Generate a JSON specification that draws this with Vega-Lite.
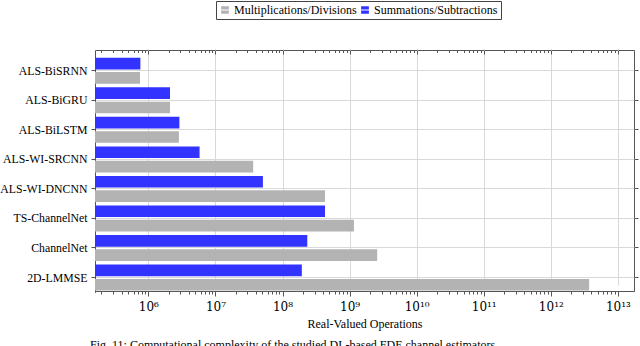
{
  "$schema": "https://vega.github.io/schema/vega-lite/v6.json",
  "width": 539,
  "height": 241,
  "autosize": {"type": "none"},
  "padding": {"left": 95, "top": 50, "right": 6, "bottom": 55},
  "background": "white",
  "config": {"font": "Liberation Serif", "view": {"stroke": "#555", "strokeWidth": 1}},
  "title": {"text": "Fig. 11: Computational complexity of the studied DL-based FDE channel estimators.", "orient": "bottom", "anchor": "start", "frame": "group", "dx": -5, "offset": 11, "fontSize": 12, "fontWeight": "normal", "font": "Liberation Serif", "color": "black"},
  "data": {"values": [
    {"method": "ALS-BiSRNN", "type": "Summations/Subtractions", "ops": 760000},
    {"method": "ALS-BiSRNN", "type": "Multiplications/Divisions", "ops": 750000},
    {"method": "ALS-BiGRU", "type": "Summations/Subtractions", "ops": 2100000},
    {"method": "ALS-BiGRU", "type": "Multiplications/Divisions", "ops": 2100000},
    {"method": "ALS-BiLSTM", "type": "Summations/Subtractions", "ops": 2900000},
    {"method": "ALS-BiLSTM", "type": "Multiplications/Divisions", "ops": 2850000},
    {"method": "ALS-WI-SRCNN", "type": "Summations/Subtractions", "ops": 5800000},
    {"method": "ALS-WI-SRCNN", "type": "Multiplications/Divisions", "ops": 36500000},
    {"method": "ALS-WI-DNCNN", "type": "Summations/Subtractions", "ops": 51000000},
    {"method": "ALS-WI-DNCNN", "type": "Multiplications/Divisions", "ops": 430000000},
    {"method": "TS-ChannelNet", "type": "Summations/Subtractions", "ops": 430000000},
    {"method": "TS-ChannelNet", "type": "Multiplications/Divisions", "ops": 1160000000},
    {"method": "ChannelNet", "type": "Summations/Subtractions", "ops": 234000000},
    {"method": "ChannelNet", "type": "Multiplications/Divisions", "ops": 2580000000},
    {"method": "2D-LMMSE", "type": "Summations/Subtractions", "ops": 194000000},
    {"method": "2D-LMMSE", "type": "Multiplications/Divisions", "ops": 3730000000000}
  ]},
  "layer": [
    {
      "mark": {"type": "bar"},
      "encoding": {
        "y": {
          "field": "method", "type": "nominal",
          "sort": ["ALS-BiSRNN", "ALS-BiGRU", "ALS-BiLSTM", "ALS-WI-SRCNN", "ALS-WI-DNCNN", "TS-ChannelNet", "ChannelNet", "2D-LMMSE"],
          "scale": {"range": [6, 242.3], "paddingInner": 0, "paddingOuter": 0},
          "axis": {"orient": "left", "title": null, "labelFontSize": 11.8, "labelFont": "Liberation Serif", "labelColor": "black", "tickSize": 4, "labelPadding": 4, "grid": true, "gridColor": "#d9d9d9", "domainColor": "#555", "tickColor": "#555"}
        },
        "yOffset": {
          "field": "type", "type": "nominal",
          "sort": ["Summations/Subtractions", "Multiplications/Divisions"],
          "scale": {"paddingInner": 0.188, "paddingOuter": 0.123}
        },
        "x": {
          "field": "ops", "type": "quantitative",
          "scale": {"type": "log", "domain": [160000, 17400000000000], "nice": false},
          "axis": {
            "orient": "bottom",
            "values": [200000, 300000, 400000, 500000, 600000, 700000, 800000, 900000,
              1000000, 2000000, 3000000, 4000000, 5000000, 6000000, 7000000, 8000000, 9000000,
              10000000, 20000000, 30000000, 40000000, 50000000, 60000000, 70000000, 80000000, 90000000,
              100000000, 200000000, 300000000, 400000000, 500000000, 600000000, 700000000, 800000000, 900000000,
              1000000000, 2000000000, 3000000000, 4000000000, 5000000000, 6000000000, 7000000000, 8000000000, 9000000000,
              10000000000, 20000000000, 30000000000, 40000000000, 50000000000, 60000000000, 70000000000, 80000000000, 90000000000,
              100000000000, 200000000000, 300000000000, 400000000000, 500000000000, 600000000000, 700000000000, 800000000000, 900000000000,
              1000000000000, 2000000000000, 3000000000000, 4000000000000, 5000000000000, 6000000000000, 7000000000000, 8000000000000, 9000000000000,
              10000000000000],
            "labelExpr": "abs(log(datum.value)/LN10 - round(log(datum.value)/LN10)) < 0.001 ? ['10⁶','10⁷','10⁸','10⁹','10¹⁰','10¹¹','10¹²','10¹³'][round(log(datum.value)/LN10) - 6] : ''",
            "tickSize": {"condition": {"test": "abs(log(datum.value)/LN10 - round(log(datum.value)/LN10)) < 0.001", "value": 5}, "value": 3},
            "grid": true,
            "gridColor": "#d9d9d9",
            "gridOpacity": {"condition": {"test": "abs(log(datum.value)/LN10 - round(log(datum.value)/LN10)) < 0.001", "value": 1}, "value": 0},
            "domainColor": "#555", "tickColor": "#555",
            "labelFontSize": 12, "labelFont": "DejaVu Serif", "labelColor": "black",
            "labelPadding": 5, "labelFlush": false, "labelOverlap": false,
            "title": "Real-Valued Operations", "titleFontSize": 12, "titleFont": "Liberation Serif", "titleFontWeight": "normal", "titleColor": "black", "titlePadding": 6
          }
        },
        "x2": {"datum": 160000},
        "color": {
          "field": "type", "type": "nominal",
          "scale": {"domain": ["Multiplications/Divisions", "Summations/Subtractions"], "range": ["#b3b3b3", "#3333ff"]},
          "legend": {"orient": "none", "legendX": 121, "legendY": -49, "direction": "horizontal", "title": null, "strokeColor": "#444", "padding": 3, "fillColor": "white", "labelFontSize": 12, "labelFont": "Liberation Serif", "labelColor": "black", "symbolType": "M-1,-1H1V-0.12H-1Z M-1,0.12H1V1H-1Z", "symbolSize": 60, "symbolStrokeWidth": 0, "columnPadding": 2, "labelOffset": 3}
        }
      }
    },
    {
      "mark": {"type": "bar", "opacity": 0},
      "encoding": {
        "y": {
          "field": "method", "type": "nominal",
          "sort": ["ALS-BiSRNN", "ALS-BiGRU", "ALS-BiLSTM", "ALS-WI-SRCNN", "ALS-WI-DNCNN", "TS-ChannelNet", "ChannelNet", "2D-LMMSE"],
          "axis": {"orient": "right", "title": null, "labels": false, "grid": false, "domain": false, "tickSize": 4, "tickColor": "#555"}
        },
        "x": {
          "field": "ops", "type": "quantitative",
          "axis": {
            "orient": "top",
            "values": [200000, 300000, 400000, 500000, 600000, 700000, 800000, 900000,
              1000000, 2000000, 3000000, 4000000, 5000000, 6000000, 7000000, 8000000, 9000000,
              10000000, 20000000, 30000000, 40000000, 50000000, 60000000, 70000000, 80000000, 90000000,
              100000000, 200000000, 300000000, 400000000, 500000000, 600000000, 700000000, 800000000, 900000000,
              1000000000, 2000000000, 3000000000, 4000000000, 5000000000, 6000000000, 7000000000, 8000000000, 9000000000,
              10000000000, 20000000000, 30000000000, 40000000000, 50000000000, 60000000000, 70000000000, 80000000000, 90000000000,
              100000000000, 200000000000, 300000000000, 400000000000, 500000000000, 600000000000, 700000000000, 800000000000, 900000000000,
              1000000000000, 2000000000000, 3000000000000, 4000000000000, 5000000000000, 6000000000000, 7000000000000, 8000000000000, 9000000000000,
              10000000000000],
            "labels": false, "grid": false, "domain": false, "title": null,
            "tickColor": "#555",
            "tickSize": {"condition": {"test": "abs(log(datum.value)/LN10 - round(log(datum.value)/LN10)) < 0.001", "value": -4}, "value": -2.5}
          }
        },
        "x2": {"datum": 160000}
      }
    }
  ]
}
